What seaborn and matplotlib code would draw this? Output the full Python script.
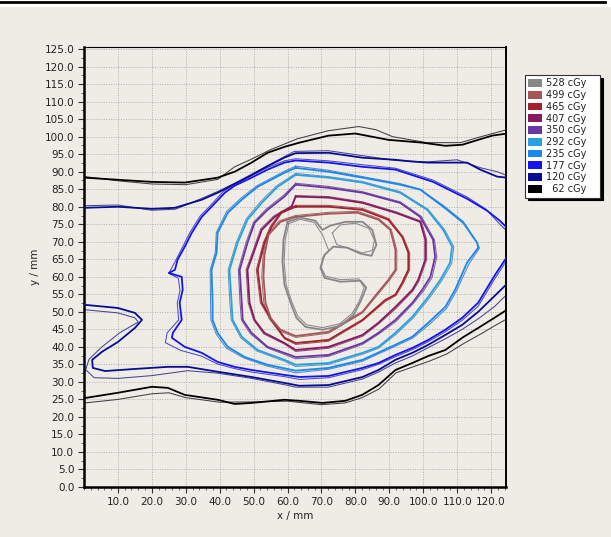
import numpy as np
import pandas as pd
import matplotlib
matplotlib.use("Agg")
import matplotlib.pyplot as plt
import seaborn as sns
from matplotlib.patches import Patch, Rectangle
from matplotlib.lines import Line2D
from matplotlib.ticker import MultipleLocator, FormatStrFormatter

# ---------------- data (mm) ----------------
levels = [528, 499, 465, 407, 350, 292, 235, 177, 120, 62]
level_colors = ['#878787', '#a65557', '#a3202c', '#8a1860', '#6a35a6',
                '#2a9fe2', '#1a86f0', '#1414ee', '#0a0a92', '#000000']

# 62 cGy (upper and lower branches)
x62u = [0.3, 10.0, 20.0, 29.7, 39.4, 44.4, 49.4, 54.1, 59.1, 63.5, 72.1, 80.0, 89.7, 99.7, 106.5, 111.5, 116.2, 120.3, 124.7]
y62u = [88.3, 87.7, 87.1, 86.9, 88.3, 90.0, 92.6, 95.4, 97.1, 98.3, 100.3, 100.9, 99.1, 98.3, 97.4, 97.7, 99.1, 100.3, 100.9]
x62u_t = [0.3, 10, 20, 30, 39.4, 44.4, 49.4, 55, 62.9, 72, 81, 86, 91, 101, 111, 117, 124.7]
y62u_t = [88.6, 87.4, 86.5, 86.3, 87.8, 91.4, 93.6, 96.3, 99.4, 101.7, 102.9, 102.0, 100.0, 98.3, 98.3, 100.0, 102.0]
x62l = [0.3, 10, 20, 24.7, 29.7, 39.4, 44.4, 49.4, 59.1, 63.5, 70.3, 77, 82, 86.8, 91.8, 96.8, 101.5, 106.5, 111.5, 116.2, 121, 124.7]
y62l = [25.4, 26.9, 28.6, 28.3, 26.3, 24.9, 23.7, 24.0, 24.9, 24.6, 24.0, 24.6, 26.3, 29.1, 33.4, 35.4, 37.4, 39.1, 42.6, 45.4, 48.3, 50.6]
x62l_t = [0.3, 10, 20, 25, 30, 40, 50, 60, 70, 77, 82, 87, 92, 97, 102, 107, 112, 117, 121, 124.7]
y62l_t = [24.0, 25.0, 26.6, 26.9, 25.5, 24.2, 24.3, 24.5, 23.5, 24.0, 25.5, 28.0, 32.6, 34.3, 36.0, 38.0, 41.0, 43.7, 46.0, 48.0]

# 120 cGy
x120u = [0.3, 10, 20, 26.8, 34.7, 39.4, 44.4, 49.4, 54, 59, 62.4, 72.1, 82.1, 91.8, 96.8, 101.5, 112.9, 116.8, 121.8, 124.7]
y120u = [79.7, 80.0, 79.4, 79.7, 82.0, 84.0, 86.5, 89.0, 91.5, 94.0, 95.3, 95.4, 94.0, 93.4, 92.9, 92.6, 92.6, 90.6, 88.6, 88.3]
x120u_t = [0.3, 10, 20, 27, 35, 40, 45, 50, 55, 62, 72, 82, 92, 101, 110, 117, 121.8, 124.7]
y120u_t = [80.3, 80.5, 79.0, 79.3, 82.5, 84.6, 87.0, 89.6, 92.2, 95.8, 96.0, 94.6, 93.2, 92.8, 93.4, 91.1, 90.0, 88.9]
x120l = [0.3, 10, 15, 17.1, 15, 10, 5.3, 2.4, 2.6, 6.2, 15, 24.7, 30.6, 39.4, 49.4, 59.1, 63.5, 72.1, 82.1, 86.8, 91.8, 96.8, 101.5, 106.5, 111.5, 116.2, 121.0, 124.7]
y120l = [52.0, 51.1, 49.7, 47.7, 45.4, 41.4, 38.6, 36.3, 34.0, 33.1, 33.7, 34.3, 34.3, 32.9, 31.4, 29.7, 28.9, 29.1, 31.4, 33.4, 36.3, 38.3, 40.6, 43.4, 46.3, 50.0, 54.5, 58.0]
x120l_t = [0.3, 10, 15, 16, 10.5, 5.3, 1.5, 0.5, 3, 10, 20, 30.6, 39.4, 49.4, 59.1, 62.4, 72, 82, 86.8, 91.8, 96.8, 101.5, 106.5, 111.5, 116.2, 121, 124.7]
y120l_t = [50.6, 49.7, 48.3, 47.1, 44.0, 40.0, 36.5, 33.5, 31.2, 31.0, 31.8, 33.2, 32.5, 31.0, 29.2, 28.5, 28.5, 30.8, 32.8, 35.4, 37.4, 39.8, 42.3, 45.0, 48.0, 51.5, 55.0]

# 177 cGy
x177 = [124.7, 122.6, 118.8, 112.9, 102.9, 91.8, 82.1, 72.1, 62.4, 59.1, 54.1, 49.4, 44.4, 41.5, 37.6, 34.7, 31.8, 29.7, 27.6, 26.8, 25.0, 28.8, 29.1, 28.2, 28.8, 26.2, 25.9, 29.7, 34.7, 39.4, 44.4, 49.4, 59.1, 63.5, 72.1, 82.1, 86.8, 91.8, 96.8, 101.5, 106.5, 111.5, 116.2, 121.2, 124.7]
y177 = [74.0, 76.0, 78.9, 82.3, 87.1, 90.6, 91.4, 92.6, 93.2, 92.6, 90.6, 88.3, 86.0, 84.0, 80.0, 77.1, 72.6, 68.6, 64.9, 62.0, 61.1, 60.0, 56.3, 52.6, 47.7, 44.0, 42.6, 40.0, 38.3, 35.7, 34.3, 33.4, 32.0, 31.4, 31.7, 34.0, 35.4, 37.7, 39.7, 42.0, 44.9, 48.3, 52.6, 60.6, 65.7]
x177_t = [124.7, 122, 118.5, 112.9, 102.9, 91.8, 82.1, 72.1, 62.4, 59.1, 54.1, 49.4, 44.4, 41.0, 37.2, 34.2, 31.2, 29.0, 27.0, 25.0, 27.8, 28.3, 27.5, 27.9, 24.5, 24.0, 28.5, 34.5, 39.4, 44.4, 49.4, 59.1, 63.5, 72.1, 82.1, 86.8, 91.8, 96.8, 101.5, 106.5, 111.5, 116.2, 121.2, 124.7]
y177_t = [73.0, 75.6, 79.3, 82.8, 87.6, 91.0, 92.0, 93.1, 93.7, 93.1, 91.2, 88.9, 86.5, 84.3, 80.3, 77.3, 72.6, 68.4, 64.6, 61.0, 59.6, 56.0, 52.6, 47.7, 44.0, 41.2, 39.0, 37.4, 35.1, 33.8, 32.8, 31.5, 30.7, 31.2, 33.5, 35.0, 37.2, 39.2, 41.5, 44.3, 47.6, 51.6, 59.6, 64.8]

# 235 cGy
x235 = [62.4, 72.1, 82.1, 93.2, 99.1, 105.9, 111.8, 115.9, 116.2, 112.9, 109.4, 106.5, 101.5, 96.8, 91.8, 82.1, 72.1, 62.4, 54.1, 47.4, 42.4, 39.4, 37.9, 37.9, 37.6, 39.1, 39.4, 42.4, 46.5, 51.2, 59.1, 62.4]
y235 = [91.1, 90.0, 88.3, 86.3, 84.9, 80.0, 75.4, 69.7, 68.3, 64.0, 56.3, 51.4, 46.9, 42.9, 40.6, 36.3, 34.0, 33.2, 34.9, 37.1, 40.0, 44.0, 47.7, 52.6, 62.0, 66.9, 72.6, 78.3, 82.0, 85.7, 89.7, 91.1]
x235_t = [62.4, 72.1, 82.1, 93.2, 99.1, 105.9, 111.8, 115.6, 116.6, 113.5, 109.8, 106.9, 101.8, 96.9, 91.8, 82.1, 72.1, 62.4, 54.1, 47.2, 42.0, 39.0, 37.4, 37.3, 37.2, 38.7, 39.0, 42.0, 46.2, 51.0, 59.0, 62.4]
y235_t = [91.6, 90.4, 88.6, 86.6, 85.0, 80.4, 75.8, 70.2, 68.2, 63.7, 56.0, 51.0, 46.4, 42.5, 40.2, 35.9, 33.6, 32.6, 34.5, 36.8, 39.6, 43.6, 47.7, 52.6, 62.0, 66.9, 72.6, 78.6, 82.4, 86.0, 90.1, 91.6]

# 292 cGy
x292 = [62.4, 72.1, 82.1, 93.2, 101.2, 105.9, 108.5, 107.9, 105.0, 101.5, 96.8, 91.8, 86.8, 82.1, 72.1, 62.4, 59.1, 51.2, 46.5, 43.8, 43.5, 42.9, 45.3, 48.2, 52.4, 57.1, 62.4]
y292 = [89.1, 88.3, 86.9, 84.0, 79.1, 73.4, 68.6, 64.0, 59.1, 54.3, 48.6, 44.0, 40.0, 38.3, 35.4, 34.9, 36.3, 39.1, 42.9, 47.7, 52.6, 62.0, 69.7, 76.3, 81.1, 85.7, 89.1]
x292_t = [62.4, 72.1, 82.1, 93.2, 101.4, 106.3, 109.0, 108.4, 105.4, 101.8, 97.0, 92.0, 86.8, 82.1, 72.1, 62.4, 59.1, 51.0, 46.2, 43.4, 43.0, 42.5, 44.9, 47.8, 52.0, 56.8, 62.4]
y292_t = [89.5, 88.6, 87.2, 84.3, 79.3, 73.5, 68.6, 63.8, 58.8, 53.9, 48.2, 43.6, 39.6, 37.9, 35.0, 34.4, 35.9, 38.8, 42.6, 47.7, 52.6, 62.0, 69.8, 76.5, 81.4, 86.0, 89.5]

# 350 cGy
x350 = [62.4, 72.1, 82.1, 93.2, 99.1, 102.9, 103.5, 102.1, 99.7, 96.8, 91.8, 86.8, 82.1, 72.1, 62.4, 54.1, 49.4, 46.8, 46.5, 45.9, 48.2, 50.3, 54.1, 59.1, 62.4]
y350 = [86.3, 85.4, 84.0, 81.1, 77.1, 70.6, 65.7, 60.0, 56.3, 52.6, 47.7, 44.0, 41.1, 37.7, 37.1, 40.0, 44.0, 47.7, 52.6, 62.0, 69.7, 75.4, 79.1, 82.9, 86.3]
x350_t = [62.4, 72.1, 82.1, 93.2, 99.4, 103.3, 104.0, 102.6, 100.1, 97.0, 92.0, 86.8, 82.1, 72.1, 62.4, 54.1, 49.0, 46.4, 46.0, 45.5, 47.8, 50.0, 53.8, 58.9, 62.4]
y350_t = [86.7, 85.8, 84.3, 81.4, 77.3, 70.6, 65.7, 59.8, 56.0, 52.3, 47.3, 43.6, 40.7, 37.3, 36.6, 39.7, 43.8, 47.7, 52.6, 62.0, 69.9, 75.6, 79.4, 83.3, 86.7]

# 407 cGy
x407 = [62.4, 72.1, 82.1, 91.8, 99.1, 100.6, 100.6, 98.5, 96.8, 91.8, 86.8, 82.1, 72.1, 62.4, 59.1, 53.2, 50.3, 48.8, 48.2, 50.3, 52.4, 56.2, 61.2, 62.4]
y407 = [82.9, 82.6, 81.1, 78.3, 75.7, 70.6, 64.9, 59.1, 56.3, 51.4, 46.9, 43.4, 40.0, 39.1, 41.1, 44.0, 47.7, 52.6, 62.0, 67.7, 73.4, 77.1, 80.0, 82.9]
x407_t = [62.4, 72.1, 82.1, 91.8, 99.4, 101.0, 101.0, 98.8, 97.0, 92.0, 86.8, 82.1, 72.1, 62.4, 59.1, 53.0, 50.0, 48.4, 47.8, 50.0, 52.1, 56.0, 61.2, 62.4]
y407_t = [83.2, 82.9, 81.4, 78.6, 75.9, 70.6, 64.9, 58.9, 56.0, 51.0, 46.5, 43.0, 39.6, 38.7, 40.8, 43.7, 47.7, 52.6, 62.0, 67.9, 73.7, 77.4, 80.3, 83.2]

# 465 cGy
x465 = [62.4, 72.1, 82.1, 89.7, 93.8, 95.6, 95.6, 93.8, 91.8, 88.8, 82.1, 72.1, 62.4, 59.1, 55.3, 52.4, 51.2, 53.2, 55.3, 58.2, 62.4]
y465 = [80.0, 80.0, 79.1, 76.3, 71.4, 66.9, 62.0, 58.3, 54.9, 53.4, 47.7, 42.0, 41.1, 42.6, 47.7, 52.6, 62.0, 69.7, 74.3, 78.3, 80.0]
x465_t = [62.4, 72.1, 82.1, 89.9, 94.1, 96.0, 96.0, 94.1, 92.0, 88.9, 82.1, 72.1, 62.4, 59.1, 55.0, 52.0, 50.8, 52.9, 55.0, 58.0, 62.4]
y465_t = [80.4, 80.4, 79.5, 76.6, 71.4, 66.9, 62.0, 58.1, 54.7, 53.0, 47.4, 41.6, 40.7, 42.3, 47.7, 52.6, 62.0, 69.8, 74.5, 78.6, 80.4]

# 499 cGy
x499 = [62.4, 72.1, 80.6, 86.8, 90.3, 91.8, 91.8, 89.7, 86.8, 82.1, 72.1, 62.4, 57.9, 55.0, 53.5, 52.9, 53.2, 54.4, 57.9, 62.4]
y499 = [77.1, 78.0, 78.3, 76.3, 73.4, 67.7, 62.0, 59.1, 55.7, 50.0, 44.3, 43.1, 44.9, 48.3, 52.6, 60.0, 66.3, 72.0, 75.7, 77.1]
x499_t = [62.4, 72.1, 80.6, 87.0, 90.6, 92.2, 92.2, 90.0, 87.0, 82.1, 72.1, 62.4, 57.6, 54.6, 53.0, 52.4, 52.8, 54.0, 57.6, 62.4]
y499_t = [77.5, 78.4, 78.7, 76.6, 73.5, 67.7, 62.0, 58.9, 55.4, 49.7, 43.9, 42.7, 44.6, 48.0, 52.6, 60.0, 66.3, 72.2, 76.0, 77.5]

# 528 cGy
x528 = [60.0, 63.8, 68.2, 70.3, 72.6, 77.1, 82.1, 85.0, 86.2, 84.7, 81.5, 77.6, 73.5, 70.9, 69.7, 70.9, 75.6, 81.5, 83.2, 81.5, 79.4, 75.6, 70.3, 65.3, 62.6, 60.9, 59.1, 58.5, 58.8, 60.0]
y528 = [75.7, 76.9, 76.0, 73.4, 74.6, 75.7, 75.7, 73.4, 69.1, 66.0, 66.6, 68.3, 68.6, 66.3, 62.6, 59.7, 58.6, 58.9, 56.9, 52.9, 49.1, 46.0, 44.9, 45.7, 48.3, 52.6, 57.7, 64.3, 70.6, 75.7]
x528_t = [60.4, 63.8, 67.9, 70.3, 72.2, 70.4, 70.0, 71.2, 75.6, 81.0, 82.6, 81.0, 79.0, 75.4, 70.3, 65.6, 63.0, 61.3, 59.6, 59.0, 59.3, 60.4]
y528_t = [75.2, 76.4, 75.5, 72.0, 67.4, 65.5, 62.6, 60.2, 59.2, 59.4, 56.9, 52.8, 49.5, 46.6, 45.5, 46.3, 48.8, 52.8, 57.7, 64.3, 70.6, 75.2]
x528_lobe = [73.2, 75.5, 80.0, 84.0, 85.6, 85.0, 82.0, 78.0, 74.5, 73.2]
y528_lobe = [72.5, 74.8, 75.3, 73.8, 70.5, 67.5, 66.8, 68.2, 69.2, 72.5]

legend_labels = ['528 cGy', '499 cGy', '465 cGy', '407 cGy', '350 cGy',
                 '292 cGy', '235 cGy', '177 cGy', '120 cGy', '  62 cGy']
x_ticks = [10, 20, 30, 40, 50, 60, 70, 80, 90, 100, 110, 120]
y_ticks = list(range(0, 126, 5))

# ---------------- build table ----------------
segments = [
    (62, 'thin', x62u_t, y62u_t), (62, 'thin', x62l_t, y62l_t),
    (62, 'thick', x62u, y62u), (62, 'thick', x62l, y62l),
    (120, 'thin', x120u_t, y120u_t), (120, 'thin', x120l_t, y120l_t),
    (120, 'thick', x120u, y120u), (120, 'thick', x120l, y120l),
    (177, 'thin', x177_t, y177_t), (177, 'thick', x177, y177),
    (235, 'thin', x235_t, y235_t), (235, 'thick', x235, y235),
    (292, 'thin', x292_t, y292_t), (292, 'thick', x292, y292),
    (350, 'thin', x350_t, y350_t), (350, 'thick', x350, y350),
    (407, 'thin', x407_t, y407_t), (407, 'thick', x407, y407),
    (465, 'thin', x465_t, y465_t), (465, 'thick', x465, y465),
    (499, 'thin', x499_t, y499_t), (499, 'thick', x499, y499),
    (528, 'thin', x528_t, y528_t), (528, 'thin', x528_lobe, y528_lobe),
    (528, 'thick', x528, y528),
]
rows = []
for sid, (lev, kind, xs, ys) in enumerate(segments):
    for i, (xv, yv) in enumerate(zip(xs, ys)):
        rows.append(dict(seg=sid, level=lev, kind=kind, order=i, x=xv, y=yv))
df = pd.DataFrame(rows)

color_of = dict(zip(levels, level_colors))


def thin_color(c):
    rgb = np.array(matplotlib.colors.to_rgb(c))
    return tuple(rgb * 0.55 + np.array([0.55, 0.55, 0.6]) * 0.45)


# ---------------- figure ----------------
plt.rcParams['font.family'] = ['DejaVu Sans']
bg = '#efece6'
fig = plt.figure(figsize=(6.11, 5.37), dpi=100, facecolor=bg)
fig.patches.append(Rectangle((0, 1 - 7 / 537), 1, 7 / 537, transform=fig.transFigure,
                             facecolor='white', edgecolor='none', zorder=0))
fig.lines.append(Line2D([0, 605 / 611], [1 - 1.5 / 537, 1 - 1.5 / 537],
                        transform=fig.transFigure, color='black', lw=2))

ax = fig.add_axes([84 / 611, 50 / 537, 422 / 611, 440 / 537])
ax.set_facecolor(bg)

for sid, g in df.groupby('seg', sort=True):
    lev = g['level'].iloc[0]
    kind = g['kind'].iloc[0]
    g = g.sort_values('order')
    if kind == 'thick':
        col, lw, z = color_of[lev], 1.3, 3
    else:
        col, lw, z = thin_color(color_of[lev]), 0.75, 2
    sns.lineplot(data=g, x='x', y='y', sort=False, estimator=None,
                 color=col, lw=lw, ax=ax, legend=False, zorder=z)

ax.set_xlim(0, 124.4)
ax.set_ylim(0, 125.6)
ax.set_xticks(x_ticks)
ax.set_yticks(y_ticks)
ax.xaxis.set_major_formatter(FormatStrFormatter('%.1f'))
ax.yaxis.set_major_formatter(FormatStrFormatter('%.1f'))
ax.xaxis.set_minor_locator(MultipleLocator(2))
ax.yaxis.set_minor_locator(MultipleLocator(2.5))
ax.tick_params(axis='both', which='major', labelsize=7.5, labelcolor='#222222',
               length=4, width=0.8, color='#333333', direction='out', pad=3)
ax.tick_params(axis='both', which='minor', length=2, width=0.6, color='#555555')
ax.grid(True, which='major', color='#b0b0b0', lw=0.7, ls=(0, (1, 1.5)))
ax.set_axisbelow(True)
for side, w in [('left', 1.8), ('bottom', 1.8), ('right', 1.4), ('top', 0.8)]:
    ax.spines[side].set_linewidth(w)
    ax.spines[side].set_color('black')

ax.set_xlabel('x / mm', fontsize=7.5, color='#222222', labelpad=3)
ax.set_ylabel('y / mm', fontsize=7.5, color='#222222', labelpad=3)

handles = [Patch(facecolor=c, edgecolor='none') for c in level_colors]
leg = fig.legend(handles, legend_labels, loc='upper left',
                 bbox_to_anchor=(525 / 611, 1 - 197 / 537, 75 / 611, 122 / 537),
                 mode='expand', frameon=True,
                 fontsize=7, handlelength=1.4, handleheight=0.85, handletextpad=0.4,
                 labelspacing=0.18, borderpad=0.35, borderaxespad=0,
                 fancybox=False, shadow={'color': 'black', 'alpha': 1})
leg.get_frame().set_edgecolor('#333333')
leg.get_frame().set_linewidth(0.8)
leg.get_frame().set_facecolor('white')
for t in leg.get_texts():
    t.set_color('#222222')

fig.savefig('out.png', dpi=100, facecolor=bg)
